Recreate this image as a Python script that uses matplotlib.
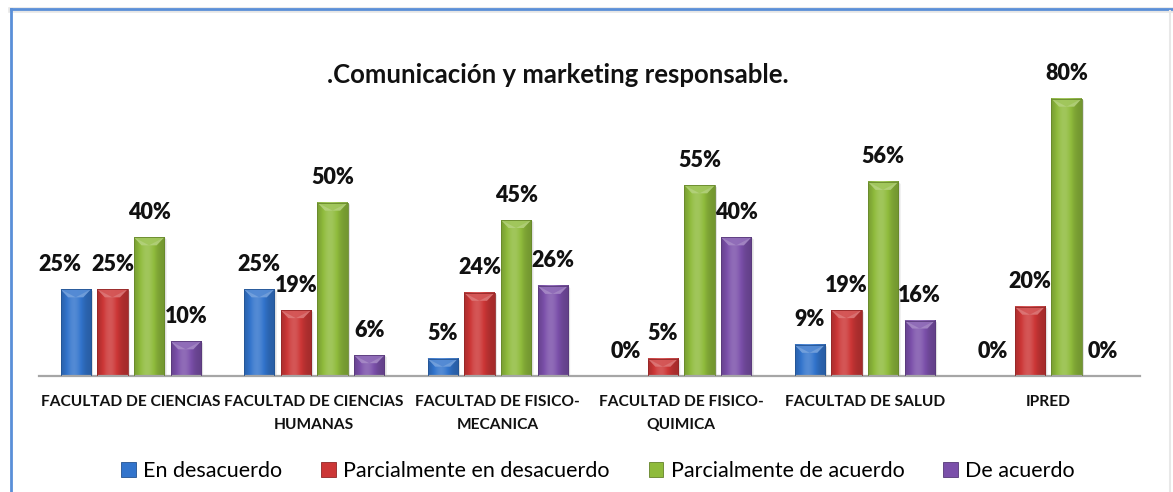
import numpy as np
import matplotlib
matplotlib.use("Agg")
import matplotlib.pyplot as plt
from matplotlib.colors import to_rgb
from matplotlib.patches import Polygon, Patch
from matplotlib.lines import Line2D

# ---------------- data ----------------
title = ".Comunicación y marketing responsable."
categories = ["FACULTAD DE CIENCIAS",
              "FACULTAD DE CIENCIAS\nHUMANAS",
              "FACULTAD DE FISICO-\nMECANICA",
              "FACULTAD DE FISICO-\nQUIMICA",
              "FACULTAD DE SALUD",
              "IPRED"]
series_names = ["En desacuerdo", "Parcialmente en desacuerdo",
                "Parcialmente de acuerdo", "De acuerdo"]
en_desacuerdo = [25, 25, 5, 0, 9, 0]
parcial_desacuerdo = [25, 19, 24, 5, 19, 20]
parcial_acuerdo = [40, 50, 45, 55, 56, 80]
de_acuerdo = [10, 6, 26, 40, 16, 0]
series_values = [en_desacuerdo, parcial_desacuerdo, parcial_acuerdo, de_acuerdo]
colors = ["#3274cc", "#cc3636", "#8fbb3c", "#7b50aa"]

FONT = ["Lato", "DejaVu Sans"]
plt.rcParams['font.family'] = FONT

W, H = 1173, 492
fig = plt.figure(figsize=(W / 100, H / 100), dpi=100)
fig.patch.set_facecolor("white")

ax = fig.add_axes([39 / W, (H - 376) / H, 1101 / W, 312 / H])
ax.set_xlim(-0.5, len(categories) - 0.5)
ax.set_ylim(0, 90)

slot = 0.2
bw = 0.165
px_per_unit = 312 / 90.0


def shade(rgb, f):
    rgb = np.array(rgb)
    if f >= 1:
        return rgb + (1 - rgb) * (f - 1)
    return rgb * f


def draw_bar(x, h, color):
    if h <= 0:
        return
    base = to_rgb(color)
    x0, x1 = x - bw / 2, x + bw / 2
    t = np.linspace(0, 1, 64)
    prof = 0.80 + 0.36 * np.exp(-((t - 0.42) / 0.30) ** 2)
    img = np.array([[np.clip(shade(base, f), 0, 1) for f in prof]])
    ax.imshow(img, extent=[x0, x1, 0, h], aspect='auto', zorder=2,
              interpolation='bilinear')
    ax.add_patch(Polygon([[x1, 0], [x1 + 0.012, 0], [x1 + 0.012, h - 0.6], [x1, h]],
                         closed=True, facecolor="#000000", alpha=0.12,
                         edgecolor="none", zorder=1))
    d = min(8 / px_per_unit, h * 0.5)
    ax.add_patch(Polygon([[x0, h], [x1, h], [x1 - bw * 0.25, h - d], [x0 + bw * 0.25, h - d]],
                         closed=True, facecolor=np.clip(shade(base, 1.35), 0, 1),
                         edgecolor="none", alpha=0.85, zorder=3))
    ax.add_patch(Polygon([[x0, h], [x, h - d], [x1, h]],
                         closed=True, facecolor=np.clip(shade(base, 1.1), 0, 1),
                         edgecolor="none", alpha=0.7, zorder=3))
    ax.add_patch(Polygon([[x0, h], [x1, h], [x1, 0], [x0, 0]], closed=True,
                         facecolor="none", edgecolor=np.clip(shade(base, 0.72), 0, 1),
                         lw=0.6, zorder=4))


for j, (vals, col) in enumerate(zip(series_values, colors)):
    for i, v in enumerate(vals):
        x = i + (j - 1.5) * slot
        draw_bar(x, v, col)
        dx = -11.5 if (i == 0 and j == 0) else 0
        ax.annotate(f"{v}%", (x, v), xytext=(dx, 18), textcoords="offset points",
                    ha="center", va="center", fontsize=15.5, fontweight="heavy",
                    color="#111111", zorder=5)

ax.set_xticks(range(len(categories)))
ax.set_xticklabels(categories, fontsize=11.2, fontweight="bold", color="#111111",
                   linespacing=1.75)
ax.tick_params(axis="x", length=0, pad=14)
ax.set_yticks([])
for s in ["left", "right", "top"]:
    ax.spines[s].set_visible(False)
ax.spines["bottom"].set_color("#a6a6a6")
ax.spines["bottom"].set_linewidth(1.6)
ax.set_facecolor("none")

fig.text(558 / W, 1 - 75 / H, title, ha="center", va="center",
         fontsize=18.5, fontweight="bold", color="#111111")

handles = [Patch(facecolor=c, edgecolor=np.clip(shade(to_rgb(c), 0.7), 0, 1), lw=0.6)
           for c in colors]
fig.legend(handles, series_names, loc="center", bbox_to_anchor=(598 / W, 21 / H),
           ncol=4, frameon=False, fontsize=15.5, handlelength=0.68, handleheight=0.68,
           handletextpad=0.35, columnspacing=1.8)

fig.add_artist(Line2D([11 / W, 1], [1 - 10 / H] * 2, transform=fig.transFigure,
                      color="#e6e6e6", lw=4, zorder=0))
fig.add_artist(Line2D([11 / W, 1], [1 - 9 / H] * 2, transform=fig.transFigure,
                      color="#5a8fd8", lw=2))
fig.add_artist(Line2D([11 / W] * 2, [0, 1 - 9 / H], transform=fig.transFigure,
                      color="#5a8fd8", lw=2))
fig.add_artist(Line2D([1170 / W] * 2, [0, 1 - 11 / H], transform=fig.transFigure,
                      color="#e8e8e8", lw=1.5))

fig.savefig("out.png", dpi=100)
